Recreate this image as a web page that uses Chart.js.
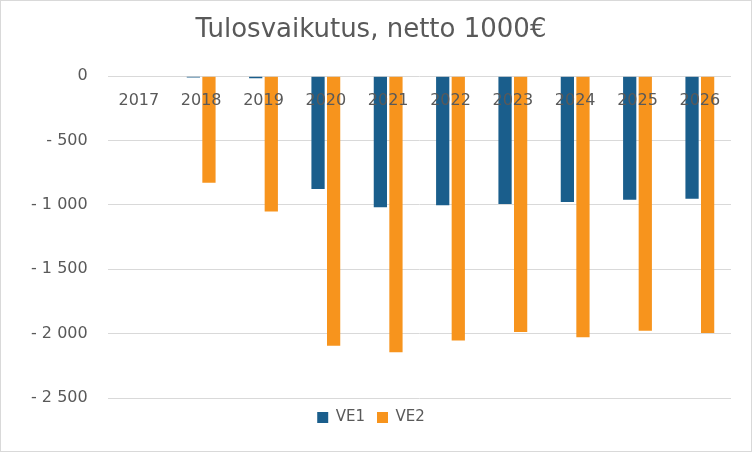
<!DOCTYPE html>
<html>
<head>
<meta charset="utf-8">
<script src="https://cdn.jsdelivr.net/npm/chart.js@4"></script>
<style>
  html, body { margin: 0; padding: 0; background: #fff; }
  #wrap { width: 750px; height: 450px; border: 1px solid #d9d9d9; }
</style>
</head>
<body>
<div id="wrap"><canvas id="chart" width="750" height="450"></canvas></div>
<script>
const years = ['2017', '2018', '2019', '2020', '2021', '2022', '2023', '2024', '2025', '2026'];
const ve1 = [0, -10, -15, -877, -1018, -1002, -993, -977, -960, -952];
const ve2 = [0, -828, -1051, -2094, -2144, -2053, -1987, -2028, -1978, -1995];

const FONT = 'DejaVu Sans';
const fmt = v => v === 0 ? '0' : '- ' + Math.abs(v).toLocaleString('fi-FI').replace(/\s/g, ' ');

// category labels sit just under the zero line, like the original
const insideLabels = {
  id: 'insideLabels',
  afterDraw(chart) {
    const { ctx, scales: { x, y } } = chart;
    ctx.save();
    ctx.font = '16px "DejaVu Sans"';
    ctx.fillStyle = '#595959';
    ctx.textAlign = 'center';
    ctx.textBaseline = 'middle';
    years.forEach((yr, i) => ctx.fillText(yr, x.getPixelForValue(i), y.getPixelForValue(0) + 25));
    ctx.restore();
  }
};

new Chart(document.getElementById('chart'), {
  type: 'bar',
  data: {
    labels: years,
    datasets: [
      { label: 'VE1', data: ve1, backgroundColor: '#1a5e8c' },
      { label: 'VE2', data: ve2, backgroundColor: '#f7941d' }
    ]
  },
  options: {
    responsive: false,
    animation: false,
    layout: { padding: { left: 10, right: 20, top: 4, bottom: 16 } },
    datasets: { bar: { categoryPercentage: 0.5, barPercentage: 0.85 } },
    plugins: {
      title: {
        display: true,
        text: 'Tulosvaikutus, netto 1000€',
        color: '#595959',
        font: { family: FONT, size: 26, weight: 'normal' },
        padding: { top: 10, bottom: 22 }
      },
      legend: {
        position: 'bottom',
        labels: {
          color: '#595959',
          boxWidth: 11, boxHeight: 11,
          font: { family: FONT, size: 15 },
          padding: 12
        }
      },
      tooltip: { enabled: false }
    },
    scales: {
      x: {
        position: 'top',
        ticks: { display: false },
        grid: { display: false },
        border: { display: false }
      },
      y: {
        min: -2500, max: 0,
        ticks: {
          stepSize: 500,
          color: '#595959',
          padding: 20,
          font: { family: FONT, size: 16 },
          callback: v => fmt(v)
        },
        grid: { color: '#d9d9d9', drawTicks: false },
        border: { display: false }
      }
    }
  },
  plugins: [insideLabels]
});
</script>
</body>
</html>
